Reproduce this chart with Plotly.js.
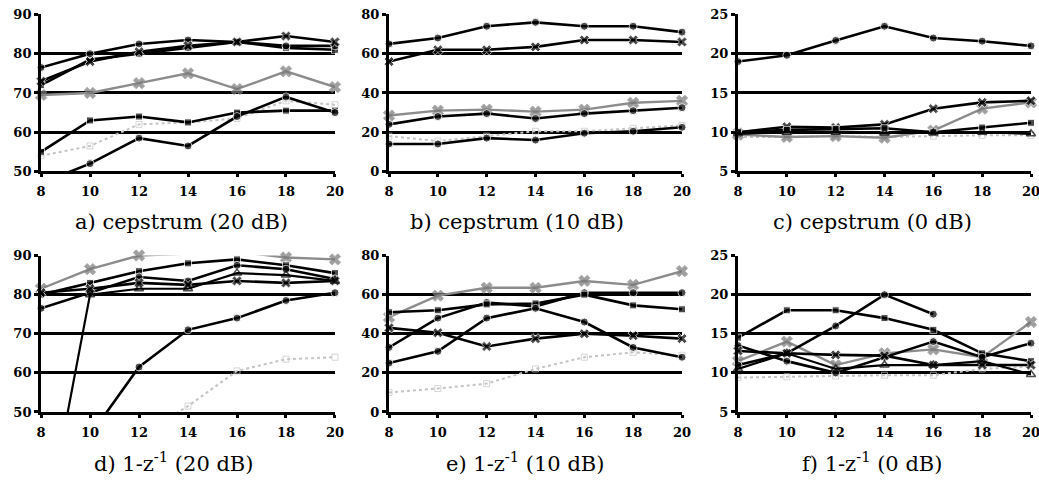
<!DOCTYPE html>
<html><head><meta charset="utf-8">
<script src="https://cdn.plot.ly/plotly-3.0.1.min.js"></script>
<style>html,body{margin:0;padding:0;background:#fff}#chart{width:1039px;height:483px}</style>
</head><body><div id="chart"></div>
<script>
// x values (filter order) shared by all panels
const xVals = [8, 10, 12, 14, 16, 18, 20];

// a) cepstrum (20 dB)
const a_circ1 = [76.5, 80, 82.5, 83.5, 83, 82, 82];
const a_star  = [73, 78, 80.5, 82, 83, 84.5, 83];
const a_sq1   = [72, 78.5, 80, 81.5, 83, 81.5, 81];
const a_grayx = [69.5, 70, 72.5, 75, 71, 75.5, 71.5];
const a_sq2   = [55, 63, 64, 62.5, 65, 65.5, 65.5];
const a_circ2 = [47, 52, 58.5, 56.5, 64, 69, 65];
const a_light = [54, 56.5, 62, 62.5, 63.5, 68, 67];

// b) cepstrum (10 dB)
const b_circ1 = [65, 68, 74, 76, 74, 74, 71];
const b_star  = [56, 62, 62, 63.5, 67, 67, 66];
const b_grayx = [28.5, 31, 31.5, 30.5, 31.5, 35, 36];
const b_circ2 = [24, 28, 29.5, 27, 29.5, 31, 32.5];
const b_light = [18, 15.5, 18, 20.5, 20.5, 22, 23.5];
const b_circ3 = [14, 14, 17, 16, 19.5, 20.5, 22.5];

// c) cepstrum (0 dB)
const c_circ1 = [19, 19.8, 21.7, 23.5, 22, 21.6, 21];
const c_star  = [10, 10.7, 10.6, 11, 13, 13.8, 14];
const c_sq    = [10, 10.3, 10.4, 10.5, 10, 10.6, 11.2];
const c_tri   = [9.8, 10, 10, 9.9, 9.9, 10, 9.8];
const c_grayx = [9.7, 9.4, 9.5, 9.3, 10.2, 13, 13.8];
const c_light = [9.4, 9.4, 9.5, 9.4, 9.5, 9.6, 9.6];

// d) 1-z^-1 (20 dB)
const d_grayx = [81.5, 86.5, 90, 90.5, 91, 89.5, 89];
const d_sq    = [80, 83, 86, 88, 89, 87.5, 85.5];
const d_circ1 = [76.5, 80.5, 84.5, 83.5, 87.5, 86.5, 84];
const d_star  = [80.5, 81.5, 83, 82.5, 83.5, 83, 83.5];
const d_tri   = [14, 80, 81.5, 81.5, 85.5, 85, 83.5];
const d_circ2 = [20, 44, 61.5, 71, 74, 78.5, 80.5];
const d_light = [33, 38, 44, 51.5, 60.5, 63.5, 64];

// e) 1-z^-1 (10 dB)
const e_grayx = [48.5, 59.5, 63.5, 63.5, 67, 65, 72];
const e_circ1 = [33, 48, 56, 54, 61, 61, 61];
const e_sq    = [51, 52, 55, 55.5, 60, 54.5, 52.5];
const e_star  = [43, 40.5, 33.5, 37.5, 40, 39, 37.5];
const e_circ2 = [25, 31, 48, 53, 46, 33, 28];
const e_light = [10, 12, 14.5, 22, 28, 30.5, 29];

// f) 1-z^-1 (0 dB)
const f_sq    = [14.5, 18, 18, 17, 15.5, 12.5, 11.5];
const f_circ1 = [11, 12.5, 16, 20, 17.5, null, null];
const f_grayx = [11.5, 14, 11, 12.5, 13, 12, 16.5];
const f_circ2 = [13.5, 11.5, 10, 12, 14, 12, 13.8];
const f_star  = [12.8, 12.5, 12.3, 12.2, 11, 11, 11];
const f_tri   = [10.5, 12.5, 10.5, 11, 11, 11.5, 9.8];
const f_light = [9.4, 9.5, 9.6, 9.7, 9.7, 10.5, 10.8];

const panelTitles = ['a) cepstrum (20 dB)', 'b) cepstrum (10 dB)', 'c) cepstrum (0 dB)',
  'd) 1-z<sup>-1</sup> (20 dB)', 'e) 1-z<sup>-1</sup> (10 dB)', 'f) 1-z<sup>-1</sup> (0 dB)'];

const panels = [
  {range: [50, 90], dtick: 10, series: [['light', a_light], ['grayx', a_grayx], ['sq', a_sq1], ['circ', a_circ1], ['star', a_star], ['sq', a_sq2], ['circ', a_circ2]]},
  {range: [0, 80], dtick: 20, series: [['light', b_light], ['grayx', b_grayx], ['circ', b_circ1], ['star', b_star], ['circ', b_circ2], ['circ', b_circ3]]},
  {range: [5, 25], dtick: 5, series: [['light', c_light], ['grayx', c_grayx], ['circ', c_circ1], ['star', c_star], ['sq', c_sq], ['tri', c_tri]]},
  {range: [50, 90], dtick: 10, series: [['light', d_light], ['grayx', d_grayx], ['sq', d_sq], ['circ', d_circ1], ['star', d_star], ['tri', d_tri], ['circ', d_circ2]]},
  {range: [0, 80], dtick: 20, series: [['light', e_light], ['grayx', e_grayx], ['circ', e_circ1], ['sq', e_sq], ['star', e_star], ['circ', e_circ2]]},
  {range: [5, 25], dtick: 5, series: [['light', f_light], ['grayx', f_grayx], ['sq', f_sq], ['circ', f_circ1], ['circ', f_circ2], ['star', f_star], ['tri', f_tri]]}
];

const styles = {
  circ:  {line: {color: '#000', width: 2.6}, marker: {symbol: 'circle', color: '#000', size: 8}},
  sq:    {line: {color: '#000', width: 2.6}, marker: {symbol: 'square', color: '#000', size: 7}},
  star:  {line: {color: '#000', width: 2.6}, marker: {symbol: 'x', color: '#000', size: 9}},
  tri:   {line: {color: '#000', width: 2.2}, marker: {symbol: 'triangle-up-open', color: '#000', size: 8, line: {width: 1.5}}},
  grayx: {line: {color: '#8c8c8c', width: 2.4}, marker: {symbol: 'x', color: '#777', size: 10}},
  light: {line: {color: '#c4c4c4', width: 2, dash: 'dot'}, marker: {symbol: 'square-open', color: '#c4c4c4', size: 6, line: {width: 1}}}
};

const xDomains = [[0.0395, 0.3224], [0.3744, 0.6564], [0.7103, 0.9923]];
const yDomains = [[0.645, 0.970], [0.147, 0.471]];
const titleX = [0.175, 0.4976, 0.84, 0.1675, 0.505, 0.839];
const titleY = [0.540, 0.0435];

const serif = 'DejaVu Serif';
const tickFont = {family: serif, size: 13, color: '#000', weight: 'bold'};
const traces = [];
const layout = {
  width: 1039, height: 483, margin: {l: 0, r: 0, t: 0, b: 0},
  paper_bgcolor: '#fff', plot_bgcolor: '#fff', showlegend: false,
  font: {family: serif, size: 14, color: '#000'},
  annotations: []
};

panels.forEach((p, i) => {
  const n = i + 1;
  const xa = 'x' + (n === 1 ? '' : n), ya = 'y' + (n === 1 ? '' : n);
  p.series.forEach(([kind, vals]) => {
    const st = styles[kind];
    const sizes = vals.map(v => (v === null || v < p.range[0] - 0.2 || v > p.range[1] + 1.2) ? 0 : st.marker.size);
    traces.push({
      x: xVals, y: vals, xaxis: xa, yaxis: ya, type: 'scatter', mode: 'lines+markers',
      line: st.line, cliponaxis: false, hoverinfo: 'skip',
      marker: Object.assign({}, st.marker, {size: sizes})
    });
  });
  const row = i < 3 ? 0 : 1, col = i % 3;
  layout['xaxis' + (n === 1 ? '' : n)] = {
    domain: xDomains[col], anchor: ya, range: [8, 20], tickvals: xVals,
    showline: true, linecolor: '#000', linewidth: 3, ticks: 'outside', ticklen: 3, tickwidth: 3, tickcolor: '#000',
    showgrid: false, zeroline: false, tickfont: tickFont, ticklabelstandoff: 3, ticklabeloverflow: 'allow',
    fixedrange: true
  };
  layout['yaxis' + (n === 1 ? '' : n)] = {
    domain: yDomains[row], anchor: xa, range: p.range, dtick: p.dtick, tick0: 0,
    showline: true, linecolor: '#000', linewidth: 3, ticks: 'outside', ticklen: 4, tickwidth: 3, tickcolor: '#000',
    showgrid: true, gridcolor: '#000', gridwidth: 3, zeroline: false, tickfont: tickFont, ticklabeloverflow: 'allow',
    fixedrange: true
  };
  layout.annotations.push({
    text: panelTitles[i], xref: 'paper', yref: 'paper', x: titleX[i], y: titleY[row],
    xanchor: 'center', yanchor: 'middle', showarrow: false,
    font: {family: serif, size: 21, color: '#000'}
  });
});

Plotly.newPlot('chart', traces, layout, {staticPlot: true, displayModeBar: false});
</script>
</body></html>
